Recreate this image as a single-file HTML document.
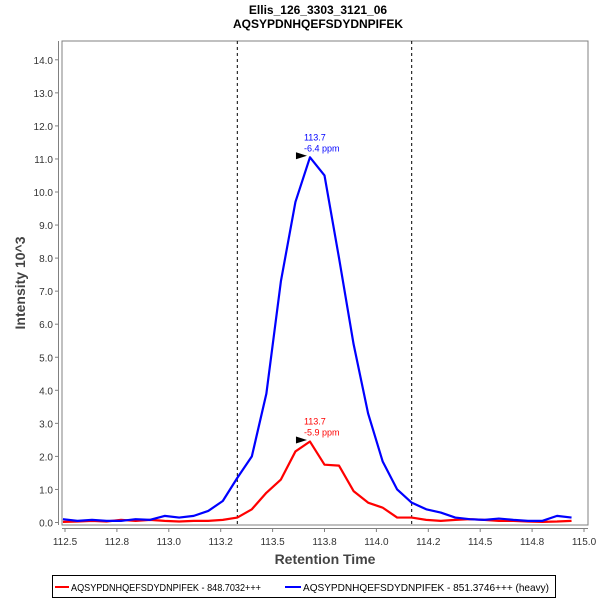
<!DOCTYPE html>
<html><head><meta charset="utf-8"><style>
body{margin:0;background:#fff;font-family:"Liberation Sans",sans-serif}
svg text{font-family:"Liberation Sans",sans-serif}
</style></head><body>
<svg id="c" width="600" height="600" xmlns="http://www.w3.org/2000/svg">
<text x="318" y="14" text-anchor="middle" font-size="12" font-weight="bold">Ellis_126_3303_3121_06</text>
<text x="318" y="28" text-anchor="middle" font-size="12" font-weight="bold">AQSYPDNHQEFSDYDNPIFEK</text>
<rect x="62" y="41" width="526" height="484" fill="#fff" stroke="#808080"/>
<line x1="58.5" y1="41" x2="58.5" y2="525" stroke="#808080"/>
<line x1="62" y1="528.5" x2="588" y2="528.5" stroke="#808080"/>
<g id="yt"></g><g id="xt"></g>
<text transform="translate(25,283) rotate(-90)" text-anchor="middle" font-size="14" font-weight="bold" fill="#444">Intensity 10^3</text>
<text x="325" y="564" text-anchor="middle" font-size="14" font-weight="bold" fill="#444">Retention Time</text>
<g id="marks"></g>
<rect x="52.5" y="575.5" width="503" height="22" fill="#fff" stroke="#000"/>
<g><line x1="55" y1="587" x2="69" y2="587" stroke="#f00" stroke-width="2"/><text x="71" y="591" font-size="10.5" textLength="190" lengthAdjust="spacingAndGlyphs">AQSYPDNHQEFSDYDNPIFEK - 848.7032+++</text></g>
<g><line x1="285" y1="587" x2="301" y2="587" stroke="#00f" stroke-width="2"/><text x="303" y="591" font-size="10.5" textLength="246" lengthAdjust="spacingAndGlyphs">AQSYPDNHQEFSDYDNPIFEK - 851.3746+++ (heavy)</text></g>
</svg>
<script>
const times=[112.49,112.56,112.63,112.70,112.77,112.84,112.91,112.98,113.05,113.12,113.19,113.26,113.33,113.40,113.47,113.54,113.61,113.68,113.75,113.82,113.89,113.96,114.03,114.10,114.17,114.24,114.31,114.38,114.45,114.52,114.59,114.66,114.73,114.80,114.87,114.94];
const heavy=[0.1,0.05,0.08,0.05,0.05,0.1,0.08,0.2,0.15,0.2,0.35,0.65,1.35,2.0,3.9,7.3,9.7,11.05,10.5,8.0,5.4,3.3,1.85,1.0,0.6,0.4,0.3,0.15,0.1,0.08,0.12,0.08,0.05,0.05,0.2,0.15];
const light=[0.02,0.03,0.05,0.03,0.08,0.05,0.08,0.05,0.03,0.05,0.05,0.08,0.15,0.4,0.9,1.3,2.15,2.45,1.75,1.72,0.95,0.6,0.45,0.15,0.15,0.08,0.05,0.08,0.1,0.08,0.05,0.05,0.03,0.02,0.03,0.05];
const xTicks=[112.5,112.75,113.0,113.25,113.5,113.75,114.0,114.25,114.5,114.75,115.0];
const xTickLabels=["112.5","112.8","113.0","113.2","113.5","113.8","114.0","114.2","114.5","114.8","115.0"];
const yTicks=[0,1,2,3,4,5,6,7,8,9,10,11,12,13,14];
const boundaries=[113.33,114.17];
const peakTime=113.68, heavyLabel=["113.7","-6.4 ppm"], lightLabel=["113.7","-5.9 ppm"];
const X=t=>65+(t-112.5)*207.6, Y=v=>522.5-v*33.05;
const NS="http://www.w3.org/2000/svg";
function mk(tag,attrs,parent,txt){const e=document.createElementNS(NS,tag);for(const k in attrs)e.setAttribute(k,attrs[k]);if(txt!=null)e.textContent=txt;document.getElementById(parent).appendChild(e);return e;}
yTicks.forEach(v=>{const y=Y(v);
const l=mk('line',{x1:55,x2:58.5,y1:y,y2:y,stroke:'#808080'},'yt');


const t=mk('text',{x:53,y:y+4,'text-anchor':'end','font-size':10,fill:'#333'},'yt',v.toFixed(1));

});
xTicks.forEach((v,i)=>{const x=X(v);
const l=mk('line',{x1:x,x2:x,y1:528.5,y2:532,stroke:'#808080'},'xt');


const t=mk('text',{x:x,y:545,'text-anchor':'middle','font-size':10,fill:'#333'},'xt',xTickLabels[i]);

});
boundaries.forEach(b=>{const l=mk('line',{x1:X(b),x2:X(b),y1:41,y2:525,stroke:'#000','stroke-dasharray':'3,3','stroke-width':1},'marks');

});
function series(vals,color,name){const p=mk('polyline',{points:vals.map((v,i)=>X(times[i])+','+Y(v)).join(' '),fill:'none',stroke:color,'stroke-width':2.2,'stroke-linejoin':'round'},'marks');

}
series(light,'#f00','light-series-line');
series(heavy,'#00f','heavy-series-line');
function peak(vals,color,lab,name){const i=times.indexOf(peakTime);const x=X(peakTime),y=Y(vals[i]);
const a=mk('polygon',{points:`${x-14},${y-5} ${x-14},${y+2} ${x-3},${y-1.5}`,fill:'#000'},'marks');


const t1=mk('text',{x:x-6,y:y-17,'font-size':9,fill:color},'marks',lab[0]);


const t2=mk('text',{x:x-6,y:y-6,'font-size':9,fill:color},'marks',lab[1]);

}
peak(heavy,'#00f',heavyLabel,'heavy-peak');
peak(light,'#f00',lightLabel,'light-peak');
</script>
</body></html>
